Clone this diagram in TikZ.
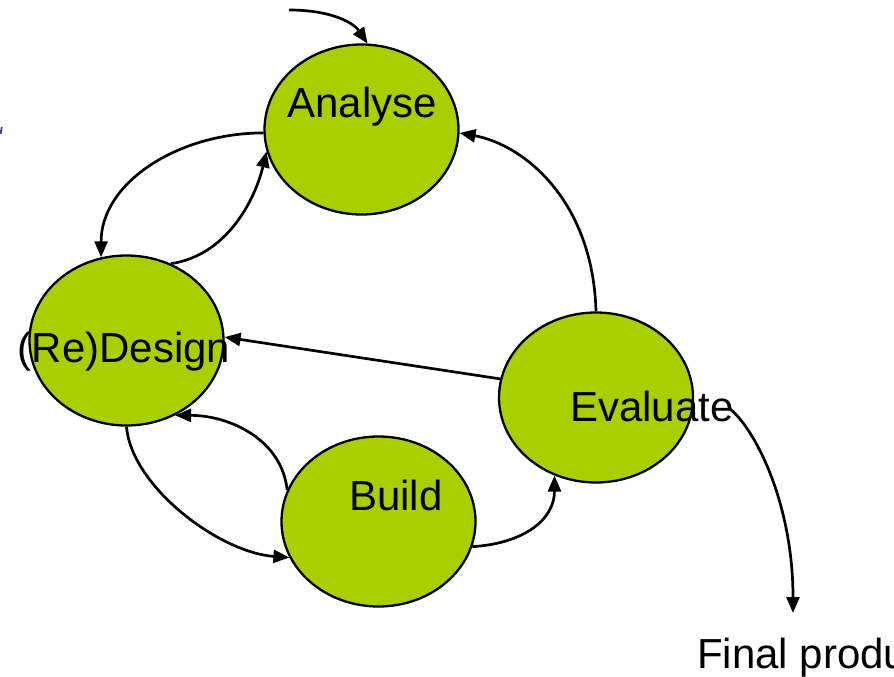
\documentclass[tikz,border=0pt]{standalone}
\usepackage{fontspec}
\setmainfont{Liberation Sans}
\usetikzlibrary{shapes.geometric,arrows.meta}
\definecolor{phase}{RGB}{170,207,0}
\definecolor{markblue}{RGB}{60,60,150}
\begin{document}
\begin{tikzpicture}[x=1pt,y=-1pt,
  phasebox/.style={ellipse,draw=black,line width=2.3pt,fill=phase,minimum width=194pt,minimum height=170pt,inner sep=0pt},
  lbl/.style={font=\fontsize{42}{50}\selectfont,inner sep=0pt,anchor=base},
  flow/.style={line width=2.7pt,-{Triangle[length=16pt,width=13pt]}}]
\useasboundingbox (0,0) rectangle (894,677);
\fill[white] (0,0) rectangle (894,677);
% stray mark at the left edge
\draw[markblue,line width=1.8pt] (1.8,127) -- (0.6,134);
% phases
\node[phasebox] (A) at (361.5,129.5) {};
\node[phasebox] (D) at (126.5,340.5) {};
\node[phasebox] (E) at (596,397.5) {};
\node[phasebox] (B) at (378.5,521.5) {};
% labels
\node[lbl] (At) at (362,117) {Analyse};
\node[lbl] (Dt) at (124,362) {(Re)Design};
\node[lbl] (Et) at (652,421) {Evaluate};
\node[lbl] (Bt) at (396,510) {Build};
\node[lbl,anchor=base west] (Ft) at (697,668) {Final produ};
% free ends
\coordinate (s1) at (289,10);
\coordinate (ftail) at (730,409);
\coordinate (fhead) at (793,613);
% connectors
\draw[flow] (s1) .. controls +(40,0) and +(-15,-22) .. (A.86);
\draw[flow] (A.182) .. controls +(-85,0) and +(0,-75) .. (D.107);
\draw[flow] (D.60) .. controls +(55,-8) and +(-12,50) .. (A.193);
\draw[flow] (E.90) .. controls +(-3,-110) and +(65,12) .. (A.358);
\draw[flow] (E.169) -- (D.2);
\draw[flow] (B.161) .. controls +(-5,-50) and +(55,0) .. (D.-57);
\draw[flow] (D.-90) .. controls +(5,60) and +(-70,-5) .. (B.202);
\draw[flow] (B.-15) .. controls +(50,-3) and +(0,45) .. (E.242);
\draw[flow] (ftail) .. controls +(25,20) and +(0,-110) .. (fhead);
\end{tikzpicture}
\end{document}
